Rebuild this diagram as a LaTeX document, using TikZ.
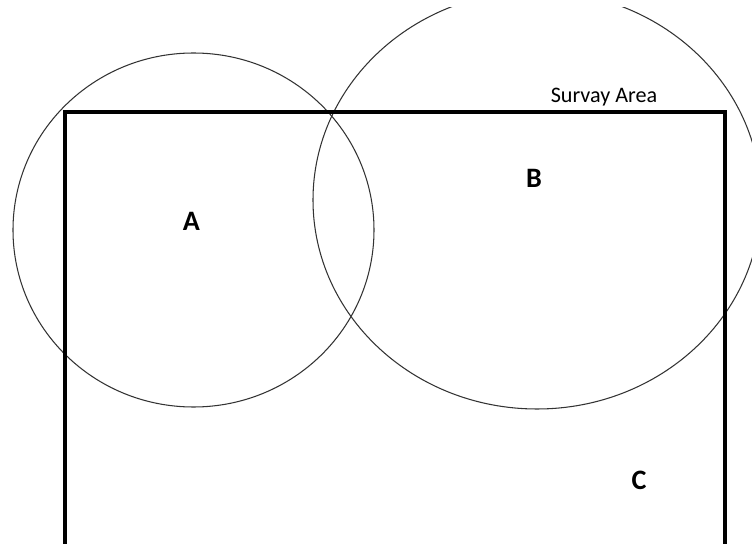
\documentclass[tikz,border=0pt]{standalone}
\usepackage{fontspec}
\setmainfont{Carlito}
\begin{document}
\begin{tikzpicture}[x=0.02cm,y=-0.02cm]
 \clip (0,0) rectangle (752,544);
 \fill [white](0,0) rectangle (752,544);
 \draw [line width=0.6pt,black!80](193.5,230) ellipse [x radius=180.5, y radius=177];
 \begin{scope}
  \clip (0,7.5) rectangle (752,544);
  \draw [line width=0.6pt,black!80](537,200) ellipse [x radius=224, y radius=209];
 \end{scope}
 \draw [line width=2.1pt](65,570) -- (65,112) -- (725,112) -- (725,570);
 \node (area) at (604,97) {\fontsize{12.6}{14}\selectfont Survay Area};
 \node (a) at (191.5,221) {\fontsize{16}{18}\selectfont\bfseries A};
 \node (b) at (534,178.5) {\fontsize{16}{18}\selectfont\bfseries B};
 \node (c) at (639,480) {\fontsize{16}{18}\selectfont\bfseries C};
\end{tikzpicture}
\end{document}
